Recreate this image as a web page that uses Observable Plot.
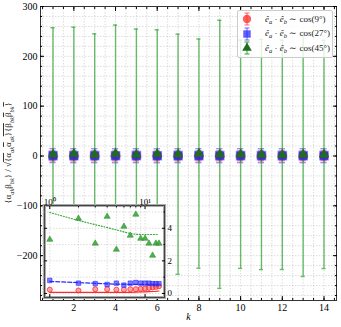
<!DOCTYPE html>
<html><head><meta charset="utf-8">
<script src="https://cdn.jsdelivr.net/npm/d3@7"></script>
<script src="https://cdn.jsdelivr.net/npm/@observablehq/plot@0.6"></script>
<style>
body{margin:0;background:#fff;}
#chart{position:relative;width:341px;height:327px;}
#inset{position:absolute;left:44px;top:205px;}
#legend{position:absolute;left:237px;top:10px;width:94px;height:46px;background:rgba(255,255,255,0.82);border:1px solid #ccc;border-radius:2px;font-family:"Liberation Serif",serif;font-size:9px;color:#222;}
#legend .row{position:absolute;left:0;height:14px;display:flex;align-items:center;white-space:nowrap;}
#legend .row svg{width:14px;height:14px;margin-left:2px;margin-right:11px;overflow:visible}
#legend sub{font-size:6.5px;vertical-align:-2px;font-style:italic}
#legend i{font-style:italic}
svg{overflow:visible}
</style></head><body><div id="chart"><div id="main"></div><div id="inset"></div><div id="legend"></div></div>
<script>
const ks = [1,2,3,4,5,6,7,8,9,10,11,12,13,14];
const redVals = [0.23,0.18,0.26,0.26,0.23,0.23,0.26,0.26,0.28,0.30,0.34,0.37,0.40,0.44];
const redErr = [10,10,10,10,10,10,10,10,10,10,10,10,10,10];
const blueVals = [0.80,0.63,0.60,0.55,0.63,0.51,0.63,0.67,0.63,0.63,0.63,0.60,0.60,0.60];
const blueErr = [14,14,14,14,14,14,14,14,14,14,14,14,14,14];
const greenVals = [3.31,4.60,3.07,4.72,2.70,4.11,3.56,4.85,3.37,3.37,3.07,2.33,3.07,3.07];
const greenErr = [254,254,242,258,252,249,241,230,269,229,231,230,245,229];
const redFit = [0.06,0.06,0.06,0.06,0.06,0.07,0.07,0.08,0.09,0.10,0.11,0.12,0.13,0.15];
const blueFit = [0.74,0.66,0.62,0.59,0.57,0.56,0.55,0.55,0.55,0.55,0.55,0.55,0.55,0.55];
const greenFit = [4.97,4.48,4.22,4.05,3.90,3.78,3.68,3.63,3.62,3.62,3.62,3.62,3.62,3.62];
const angles = ["9°","27°","45°"];
const yTicks = [-200,-100,0,100,200,300];
const xTicks = [2,4,6,8,10,12,14];
const insetXTicks = [1,10];
const insetYTicks = [0,2,4];

const RED = "#ff2a2a", BLUE = "#2a2aff", GREEN = "#3aa63a", DGREEN = "#1d6e1d";
const FONT = "Liberation Serif";

const series = [
  {name:"red", vals:redVals, err:redErr, fit:redFit, color:RED, cap:0.15},
  {name:"blue", vals:blueVals, err:blueErr, fit:blueFit, color:BLUE, cap:0.15},
  {name:"green", vals:greenVals, err:greenErr, fit:greenFit, color:GREEN, cap:0.1}
];
const rowsOf = s => ks.map((k,i)=>({k, v:s.vals[i], e:s.err[i], f:s.fit[i]}));

const mainMarks = [
  Plot.gridX(d3.range(0.5,14.6,0.5), {stroke:"#aaa", strokeOpacity:0.4, strokeDasharray:"1.5,1.5"}),
  Plot.gridY(d3.range(-280,301,20), {stroke:"#aaa", strokeOpacity:0.4, strokeDasharray:"1.5,1.5"})
];
series.forEach((s)=>{
  const rows = rowsOf(s);
  const op = s.name==="green" ? 0.75 : 0.5;
  mainMarks.push(
    Plot.ruleX(rows, {x:"k", y1:d=>d.v-d.e, y2:d=>d.v+d.e, stroke:s.color, strokeOpacity:op, strokeWidth:1.4}),
    Plot.ruleY(rows, {y:d=>d.v+d.e, x1:d=>d.k-s.cap, x2:d=>d.k+s.cap, stroke:s.color, strokeOpacity:op, strokeWidth:1.4}),
    Plot.ruleY(rows, {y:d=>d.v-d.e, x1:d=>d.k-s.cap, x2:d=>d.k+s.cap, stroke:s.color, strokeOpacity:op, strokeWidth:1.4})
  );
});
mainMarks.push(
  Plot.dot(rowsOf(series[0]), {x:"k", y:"v", symbol:"circle", r:4.2, fill:RED, fillOpacity:0.6, stroke:RED, strokeOpacity:0.6}),
  Plot.dot(rowsOf(series[1]), {x:"k", y:"v", symbol:"square", r:4.6, fill:"#2626c8", fillOpacity:0.85, stroke:BLUE, strokeOpacity:0.5}),
  Plot.dot(rowsOf(series[2]), {x:"k", y:"v", symbol:"triangle", r:2.8, fill:DGREEN, stroke:DGREEN}),
  Plot.frame({stroke:"#333", strokeWidth:1}),
  Plot.axisY(yTicks, {anchor:"left", tickSize:-4, tickPadding:7, label:null}),
  Plot.axisY(d3.range(-280,301,20), {anchor:"left", tickSize:-2, text:null, label:null}),
  Plot.axisY(yTicks, {anchor:"right", tickSize:-4, text:null, label:null}),
  Plot.axisY(d3.range(-280,301,20), {anchor:"right", tickSize:-2, text:null, label:null}),
  Plot.axisX(xTicks, {anchor:"bottom", tickSize:-4, tickPadding:7, label:null}),
  Plot.axisX(d3.range(0.5,14.6,0.5), {anchor:"bottom", tickSize:-2, text:null, label:null}),
  Plot.axisX(xTicks, {anchor:"top", tickSize:-4, text:null, label:null}),
  Plot.axisX(d3.range(0.5,14.6,0.5), {anchor:"top", tickSize:-2, text:null, label:null}),
  Plot.text(["k"], {frameAnchor:"bottom", dy:19, fontStyle:"italic", fontSize:10})
);

const main = Plot.plot({
  width:341, height:327,
  marginLeft:40, marginRight:5, marginTop:6, marginBottom:27,
  x:{domain:[0.4,14.6]},
  y:{domain:[-290,300]},
  style:{fontFamily:FONT, fontSize:"10px", background:"white", overflow:"visible"},
  marks: mainMarks
});
document.getElementById("main").appendChild(main);

function rich(sel, parts, size){
  let cur = 0;
  parts.forEach(p=>{
    const want = p.sub ? size*0.3 : 0;
    const t = sel.append("tspan").text(p.t).attr("dy", want-cur);
    if (p.sub) t.attr("font-size", size*0.7);
    if (p.it) t.attr("font-style","italic");
    if (p.over) t.attr("text-decoration","overline");
    cur = want;
  });
}

const svg = d3.select(main);
const yl = svg.append("text").attr("transform","translate(11,153) rotate(-90)")
  .attr("text-anchor","middle").attr("font-size",9).attr("font-family",FONT).attr("fill","#222");
rich(yl, [
  {t:"{α"},{t:"ak",sub:1,it:1},{t:"β"},{t:"bk",sub:1,it:1},{t:"} / √"},
  {t:"{α",over:1},{t:"ak",sub:1,it:1},{t:"α",over:1},{t:"ak",sub:1,it:1},{t:"}{β",over:1},{t:"bk",sub:1,it:1},{t:"β",over:1},{t:"bk",sub:1,it:1},{t:"}",over:1}
], 9);

// legend (HTML)
const legend = d3.select("#legend");
const legSym = [d3.symbolCircle, d3.symbolSquare, d3.symbolTriangle];
series.forEach((s,i)=>{
  const row = legend.append("div").attr("class","row").style("top", (1 + i*14.5) + "px");
  const op = s.name==="green" ? 0.8 : 0.55;
  const m = row.append("svg").attr("viewBox","-7 -7 14 14");
  m.append("line").attr("x1",0).attr("x2",0).attr("y1",-6).attr("y2",6).attr("stroke",s.color).attr("stroke-opacity",op).attr("stroke-width",1.3);
  m.append("line").attr("x1",-2.5).attr("x2",2.5).attr("y1",-6).attr("y2",-6).attr("stroke",s.color).attr("stroke-opacity",op).attr("stroke-width",1.3);
  m.append("line").attr("x1",-2.5).attr("x2",2.5).attr("y1",6).attr("y2",6).attr("stroke",s.color).attr("stroke-opacity",op).attr("stroke-width",1.3);
  m.append("path").attr("d", d3.symbol(legSym[i], i===2?40:55)())
    .attr("fill", i===2 ? DGREEN : s.color).attr("fill-opacity", i===2?1:0.75);
  const sp = row.append("span");
  sp.append("i").text("ê"); sp.append("sub").text("a");
  sp.append("span").text(" · ");
  sp.append("i").text("ê"); sp.append("sub").text("b");
  sp.append("span").text(" ∼ cos(" + angles[i] + ")");
});

const insetMarks = [
  Plot.frame({fill:"white", stroke:"#aaa", strokeWidth:3}),
  Plot.frame({stroke:"#444", strokeWidth:1}),
  Plot.gridX([1,2,3,4,5,6,7,8,9,10], {stroke:"#aaa", strokeOpacity:0.4, strokeDasharray:"1.5,1.5"}),
  Plot.gridY([0,1,2,3,4,5], {stroke:"#aaa", strokeOpacity:0.4, strokeDasharray:"1.5,1.5"}),
  Plot.line(rowsOf(series[2]), {x:"k", y:"f", stroke:GREEN, strokeWidth:1.2, strokeDasharray:"1,1.8"}),
  Plot.line(rowsOf(series[1]), {x:"k", y:"f", stroke:BLUE, strokeWidth:1.2, strokeDasharray:"4,2"}),
  Plot.line(rowsOf(series[0]), {x:"k", y:"f", stroke:RED, strokeWidth:1.2}),
  Plot.dot(rowsOf(series[0]), {x:"k", y:"v", symbol:"circle", r:2.5, fill:RED, fillOpacity:0.4, stroke:RED, strokeWidth:0.8}),
  Plot.dot(rowsOf(series[1]), {x:"k", y:"v", symbol:"square", r:2.5, fill:BLUE, fillOpacity:0.6, stroke:BLUE, strokeWidth:0.6}),
  Plot.dot(rowsOf(series[2]), {x:"k", y:"v", symbol:"triangle", r:2.3, fill:GREEN, fillOpacity:0.9, stroke:"#2a8a2a", strokeWidth:0.5}),
  Plot.axisX(insetXTicks, {anchor:"top", tickSize:-3, tickPadding:4, label:null, tickFormat:d=> d===1 ? "10⁰" : "10¹"}),
  Plot.axisX([2,3,4,5,6,7,8,9], {anchor:"top", tickSize:-1.5, text:null, label:null}),
  Plot.axisY(insetYTicks, {anchor:"right", tickSize:-3, tickPadding:6, label:null}),
  Plot.axisY([1,3,5], {anchor:"right", tickSize:-1.5, text:null, label:null}),
  Plot.axisX(insetXTicks, {anchor:"bottom", tickSize:-3, text:null, label:null}),
  Plot.axisY(insetYTicks, {anchor:"left", tickSize:-3, text:null, label:null})
];
const inset = Plot.plot({
  width:120, height:92, margin:0,
  x:{type:"log", domain:[0.88,16]},
  y:{domain:[-0.25,5.4]},
  style:{fontFamily:FONT, fontSize:"9px", overflow:"visible", background:"transparent"},
  marks: insetMarks
});
document.getElementById("inset").appendChild(inset);
</script></body></html>
